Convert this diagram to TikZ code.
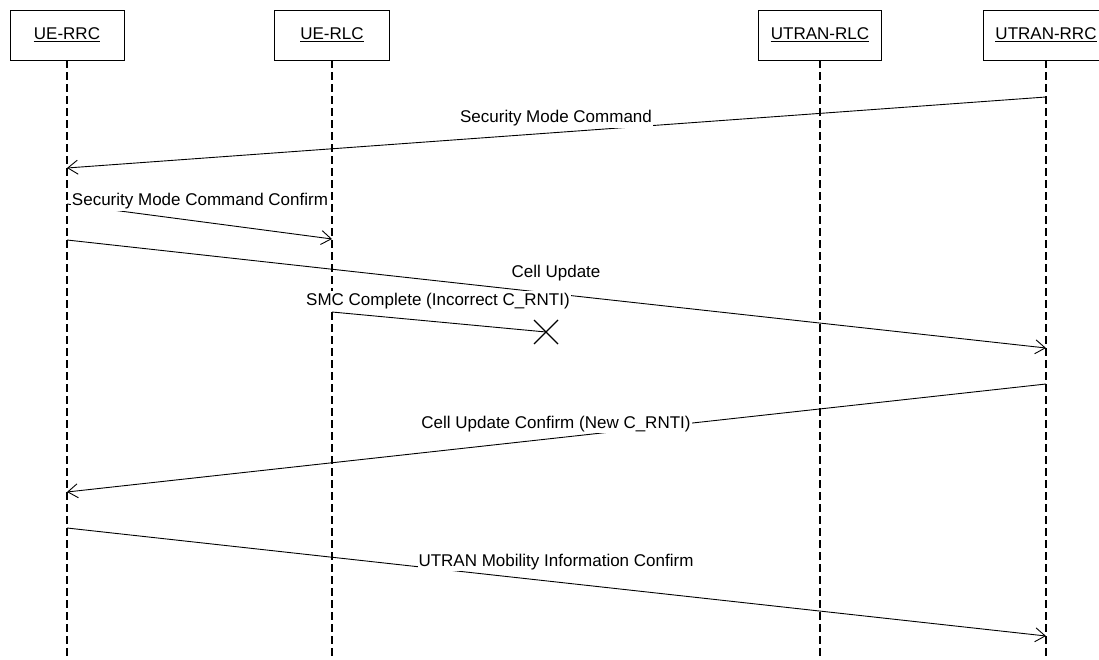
\documentclass[tikz,border=0pt]{standalone}
\usepackage{fontspec}
\setmainfont{Liberation Sans}
\usetikzlibrary{arrows.meta}

\tikzset{
  actor/.style={draw=black, line width=0.8pt, fill=white, minimum height=50pt, inner sep=0pt},
  actorname/.style={anchor=base, inner sep=0pt, font=\fontsize{17pt}{20pt}\selectfont},
  nameline/.style={line width=0.9pt},
  lifeline/.style={line width=1.8pt, dash pattern=on 8pt off 4pt},
  msg/.style={line width=0.9pt, -{Straight Barb[length=10pt,width=14pt]}},
  lostmsg/.style={line width=0.9pt},
  msglabel/.style={anchor=base, fill=white, inner xsep=1pt, inner ysep=1.8pt,
                   font=\fontsize{17pt}{20pt}\selectfont},
  lostmark/.style={line width=1.1pt},
}

\begin{document}
\begin{tikzpicture}[x=1pt,y=-1pt]
\clip (0,0) rectangle (1099,660);
\fill[white] (0,0) rectangle (1099,660);

% entity boxes
\node[actor, minimum width=114pt] (uerrc)    at (67,35)   {};
\node[actor, minimum width=115pt] (uerlc)    at (332,35)  {};
\node[actor, minimum width=123pt] (utranrlc) at (820,35)  {};
\node[actor, minimum width=126pt] (utranrrc) at (1046,35) {};

% entity names, underlined
\node[actorname] (uerrc-name)    at (67,39.5)   {UE-RRC};
\node[actorname] (uerlc-name)    at (332,39.5)  {UE-RLC};
\node[actorname] (utranrlc-name) at (820,39.5)  {UTRAN-RLC};
\node[actorname] (utranrrc-name) at (1046,39.5) {UTRAN-RRC};
\foreach \n in {uerrc-name,uerlc-name,utranrlc-name,utranrrc-name}
  \draw[nameline] ([yshift=-2.3pt]\n.base west) -- ([yshift=-2.3pt]\n.base east);

% lifelines
\coordinate (uerrc-bot)    at (67,662);
\coordinate (uerlc-bot)    at (332,662);
\coordinate (utranrlc-bot) at (820,662);
\coordinate (utranrrc-bot) at (1046,662);
\draw[lifeline] (uerrc.south)    -- (uerrc-bot);
\draw[lifeline] (uerlc.south)    -- (uerlc-bot);
\draw[lifeline] (utranrlc.south) -- (utranrlc-bot);
\draw[lifeline] (utranrrc.south) -- (utranrrc-bot);

% message end points on the lifelines
\coordinate (smc-from)  at (1046,97);
\coordinate (smc-to)    at (67,168);
\coordinate (smcc-from) at (67,204);
\coordinate (smcc-to)   at (332,239);
\coordinate (cu-from)   at (67,240);
\coordinate (cu-to)     at (1046,348);
\coordinate (smcx-from) at (332,312);
\coordinate (lost)      at (546,332);
\coordinate (cuc-from)  at (1046,384);
\coordinate (cuc-to)    at (67,492);
\coordinate (umi-from)  at (67,528);
\coordinate (umi-to)    at (1046,636);

% messages
\draw[msg] (smc-from)  -- (smc-to);
\draw[msg] (smcc-from) -- (smcc-to);
\draw[msg] (cu-from)   -- (cu-to);
\draw[lostmsg] (smcx-from) -- (lost);
\draw[msg] (cuc-from)  -- (cuc-to);
\draw[msg] (umi-from)  -- (umi-to);

% lost message mark
\draw[lostmark] (lost) +(-12,-12) -- +(12,12);
\draw[lostmark] (lost) +(-12,12) -- +(12,-12);

% message labels
\node[msglabel] (smc-label)  at (556,123) {Security Mode Command};
\node[msglabel] (smcc-label) at (200,206) {Security Mode Command Confirm};
\node[msglabel] (cu-label)   at (556,277) {Cell Update};
\node[msglabel] (smcx-label) at (438,305) {SMC Complete (Incorrect C\_RNTI)};
\node[msglabel] (cuc-label)  at (556,428) {Cell Update Confirm (New C\_RNTI)};
\node[msglabel] (umi-label)  at (556,566) {UTRAN Mobility Information Confirm};
\end{tikzpicture}
\end{document}
